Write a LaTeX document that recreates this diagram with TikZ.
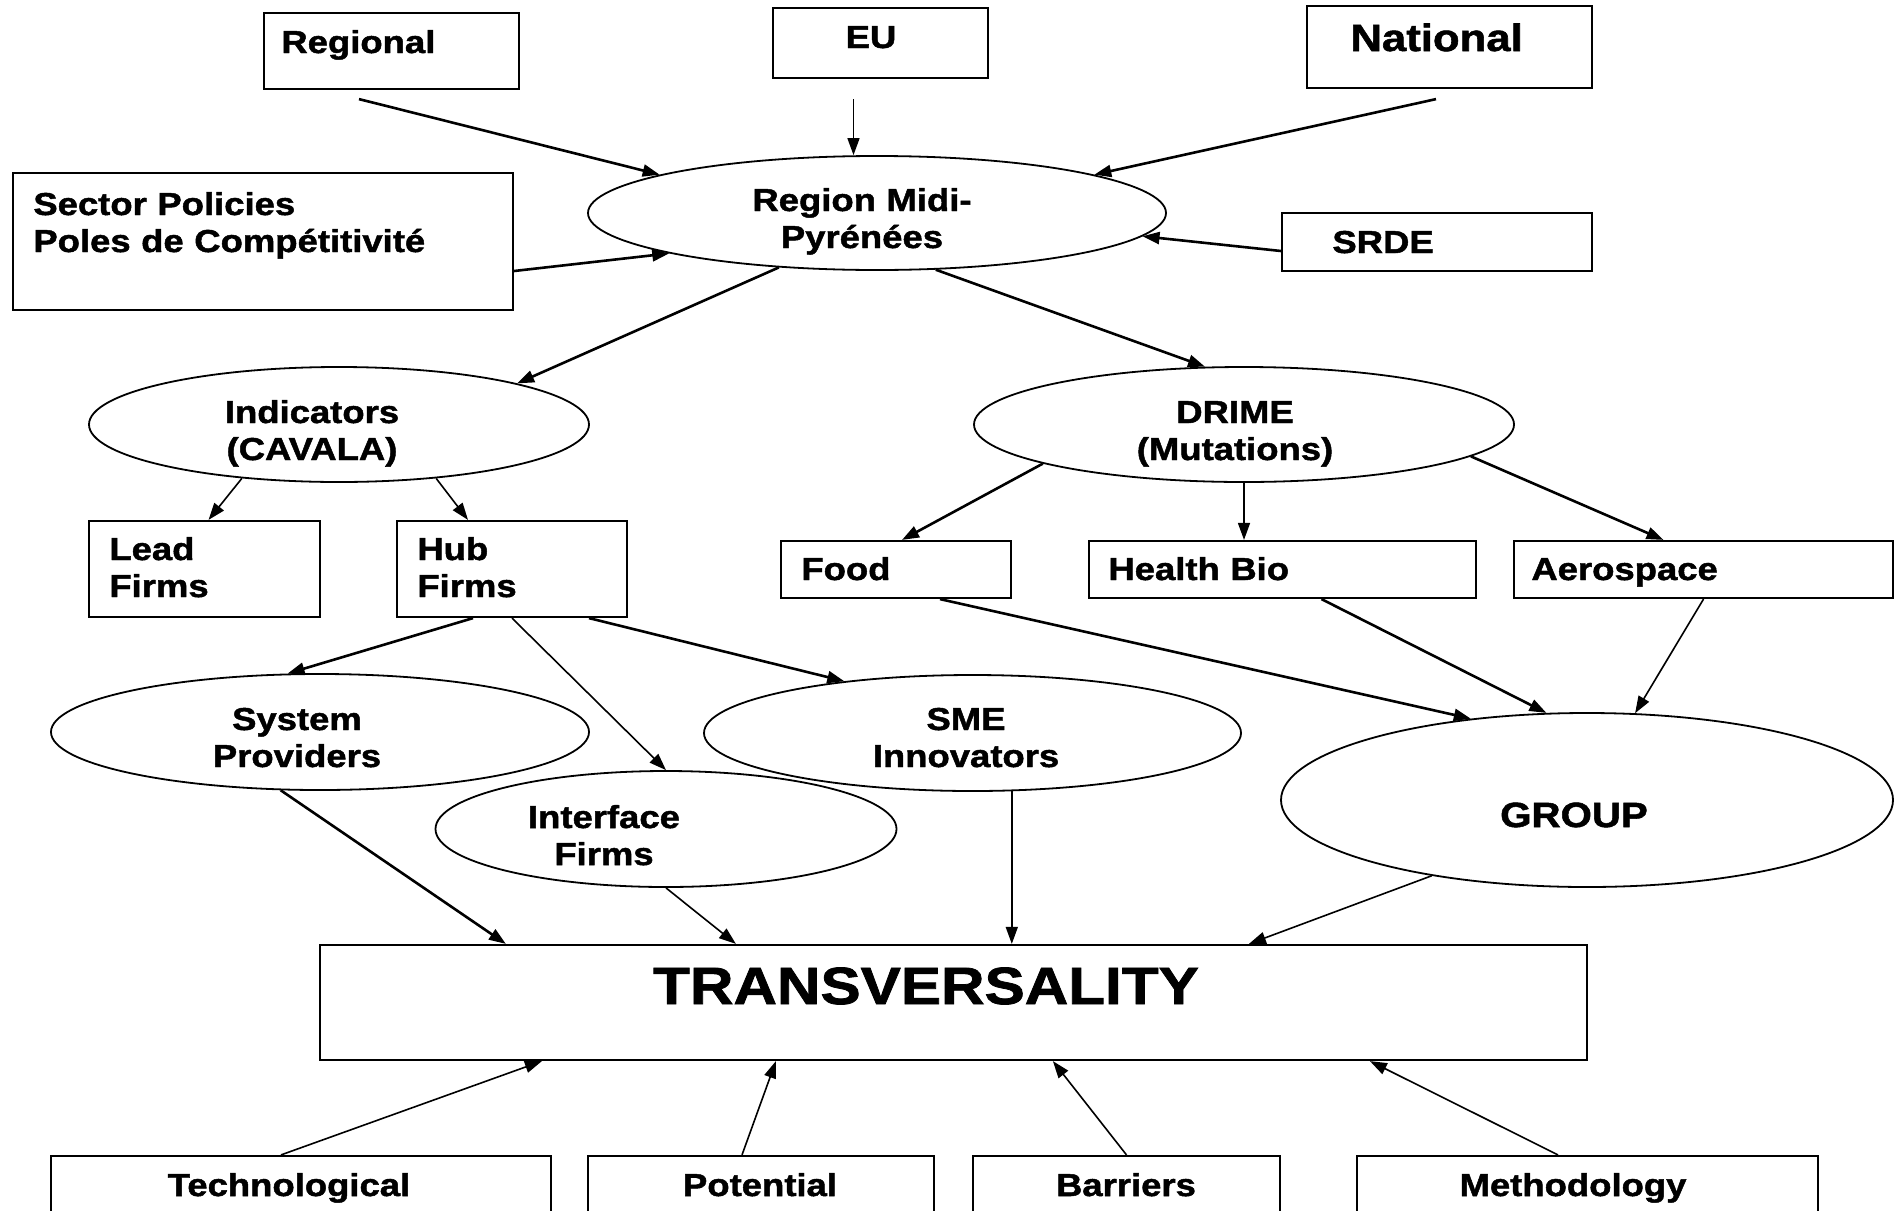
\documentclass[tikz,border=0pt]{standalone}
\usepackage{fontspec}
\setmainfont{Liberation Sans}[FakeStretch=1.15, BoldFeatures={FakeBold=1.5}]
\usetikzlibrary{arrows.meta, shapes.geometric}

\begin{document}
\begin{tikzpicture}[
    x=0.5pt, y=-0.5pt,
    box/.style={draw, line width=1.1pt, inner sep=0pt},
    oval/.style={draw, ellipse, line width=0.9pt, inner sep=0pt},
    txt/.style={inner sep=0pt, font=\bfseries\fontsize{15.85}{18.5}\selectfont},
    ltxt/.style={txt, anchor=base west, align=left, text width=260pt},
    ctxt/.style={txt, anchor=base, align=center, text width=200pt},
    arr/.style={-{Triangle[length=8.5pt, width=6pt]}, line width=1.3pt},
    thinarr/.style={-{Triangle[length=8.5pt, width=6pt]}, line width=0.8pt}
]
\useasboundingbox (0,0) rectangle (1894,1210);

% policy levels
\node[box, minimum width=127.5pt, minimum height=38pt] (regional) at (391.5,51) {};
\node[ltxt] (regional-t) at (281,53) {Regional};
\node[box, minimum width=107.5pt, minimum height=35pt] (eu) at (880.5,43) {};
\node[ctxt] (eu-t) at (871,48) {EU};
\node[box, minimum width=142.5pt, minimum height=41pt] (national) at (1449.5,47) {};
\node[ltxt, font=\bfseries\fontsize{19}{22}\selectfont] (national-t) at (1350,51) {National};
\node[box, minimum width=250pt, minimum height=68.5pt] (sector) at (263,241.5) {};
\node[ltxt] (sector-t) at (33,215) {Sector Policies\\Poles de Compétitivité};
\node[box, minimum width=155pt, minimum height=29pt] (srde) at (1437,242) {};
\node[ltxt] (srde-t) at (1332,253) {SRDE};

% region
\node[oval, minimum width=289pt, minimum height=57pt] (region) at (877,213) {};
\node[ctxt] (region-t) at (862,211) {Region Midi-\\Pyrénées};

% programmes
\node[oval, minimum width=250pt, minimum height=57.5pt] (ind) at (339,424.5) {};
\node[ctxt] (ind-t) at (312,423) {Indicators\\(CAVALA)};
\node[oval, minimum width=270pt, minimum height=57.5pt] (drime) at (1244,424.5) {};
\node[ctxt] (drime-t) at (1235,423) {DRIME\\(Mutations)};

% firms and sectors
\node[box, minimum width=115.5pt, minimum height=48pt] (lead) at (204.5,569) {};
\node[ltxt] (lead-t) at (109,560) {Lead\\Firms};
\node[box, minimum width=115pt, minimum height=48pt] (hub) at (512,569) {};
\node[ltxt] (hub-t) at (417,560) {Hub\\Firms};
\node[box, minimum width=115pt, minimum height=28.5pt] (food) at (896,569.5) {};
\node[ltxt] (food-t) at (801,580) {Food};
\node[box, minimum width=193.5pt, minimum height=28.5pt] (health) at (1282.5,569.5) {};
\node[ltxt] (health-t) at (1108,580) {Health Bio};
\node[box, minimum width=189.5pt, minimum height=28.5pt] (aero) at (1703.5,569.5) {};
\node[ltxt] (aero-t) at (1531,580) {Aerospace};

\node[oval, minimum width=269pt, minimum height=58pt] (sysprov) at (320,732) {};
\node[ctxt] (sysprov-t) at (297,730) {System\\Providers};
\node[oval, minimum width=268.5pt, minimum height=58pt] (sme) at (972.5,733) {};
\node[ctxt] (sme-t) at (966,730) {SME\\Innovators};
\node[oval, minimum width=230.5pt, minimum height=58pt] (iface) at (666,829) {};
\node[ctxt] (iface-t) at (604,828) {Interface\\Firms};
\node[oval, minimum width=306pt, minimum height=87pt] (group) at (1587,800) {};
\node[txt, anchor=base, font=\bfseries\fontsize{17.5}{20}\selectfont] (group-t) at (1574,827) {GROUP};

% transversality
\node[box, minimum width=633.5pt, minimum height=57.5pt] (trans) at (953.5,1002.5) {};
\node[txt, anchor=base, font=\bfseries\fontsize{26.2}{30}\selectfont] (trans-t) at (926,1004) {TRANSVERSALITY};

\node[box, minimum width=250pt, minimum height=60pt] (tech) at (301,1216) {};
\node[ctxt] (tech-t) at (289,1196) {Technological};
\node[box, minimum width=173pt, minimum height=60pt] (pot) at (761,1216) {};
\node[ctxt] (pot-t) at (760,1196) {Potential};
\node[box, minimum width=153.5pt, minimum height=60pt] (barr) at (1126.5,1216) {};
\node[ctxt] (barr-t) at (1126,1196) {Barriers};
\node[box, minimum width=230.5pt, minimum height=60pt] (meth) at (1587.5,1216) {};
\node[ctxt] (meth-t) at (1573,1196) {Methodology};

% into the region
\coordinate (eu-out) at ([shift={(-27,20)}]eu.south);
\draw[arr] ([shift={(-32.5,9)}]regional.south) -- (region.170);
\draw[thinarr] (eu-out) -- (eu-out |- region.north);
\draw[arr] ([shift={(-13.5,10)}]national.south) -- (region.10);
\draw[arr] ([shift={(0,29.5)}]sector.east) -- (region.191);
\draw[arr] ([shift={(0,9)}]srde.west) -- (region.355);

% out of the region
\draw[arr] (region.209) -- (ind.13);
\draw[arr] (region.316) -- (drime.124);
\draw[thinarr] (ind.209) -- ([shift={(4,0)}]lead.north);
\draw[thinarr] (ind.331) -- ([shift={(-44,0)}]hub.north);
\draw[arr] (drime.191) -- ([shift={(6,0)}]food.north);
\draw[thinarr] (drime.south) -- (drime.south |- health.north);
\draw[arr] (drime.352) -- ([shift={(-40,0)}]aero.north);

% hub firms and sectors
\draw[arr] ([shift={(-39,0)}]hub.south) -- (sysprov.119);
\draw[thinarr] (hub.south) -- (iface.north);
\draw[arr] ([shift={(77,0)}]hub.south) -- (sme.158);
\draw[arr] ([shift={(44,0)}]food.south) -- (group.145);
\draw[arr] ([shift={(39,0)}]health.south) -- (group.115);
\draw[thinarr] (aero.south) -- (group.61);

% into transversality
\draw[arr] (sysprov.236) -- ([shift={(187,0)}]trans.north west);
\draw[thinarr] (iface.south) -- ([shift={(417,0)}]trans.north west);
\draw[thinarr] (sme.304) -- (sme.304 |- trans.north);
\draw[thinarr] (group.206) -- ([shift={(930,0)}]trans.north west);
\draw[thinarr] ([shift={(-20,0)}]tech.north) -- ([shift={(223,0)}]trans.south west);
\draw[thinarr] ([shift={(-19,0)}]pot.north) -- ([shift={(457,0)}]trans.south west);
\draw[thinarr] (barr.north) -- ([shift={(734,0)}]trans.south west);
\draw[thinarr] ([shift={(-29.5,0)}]meth.north) -- ([shift={(1051,0)}]trans.south west);

\end{tikzpicture}
\end{document}
